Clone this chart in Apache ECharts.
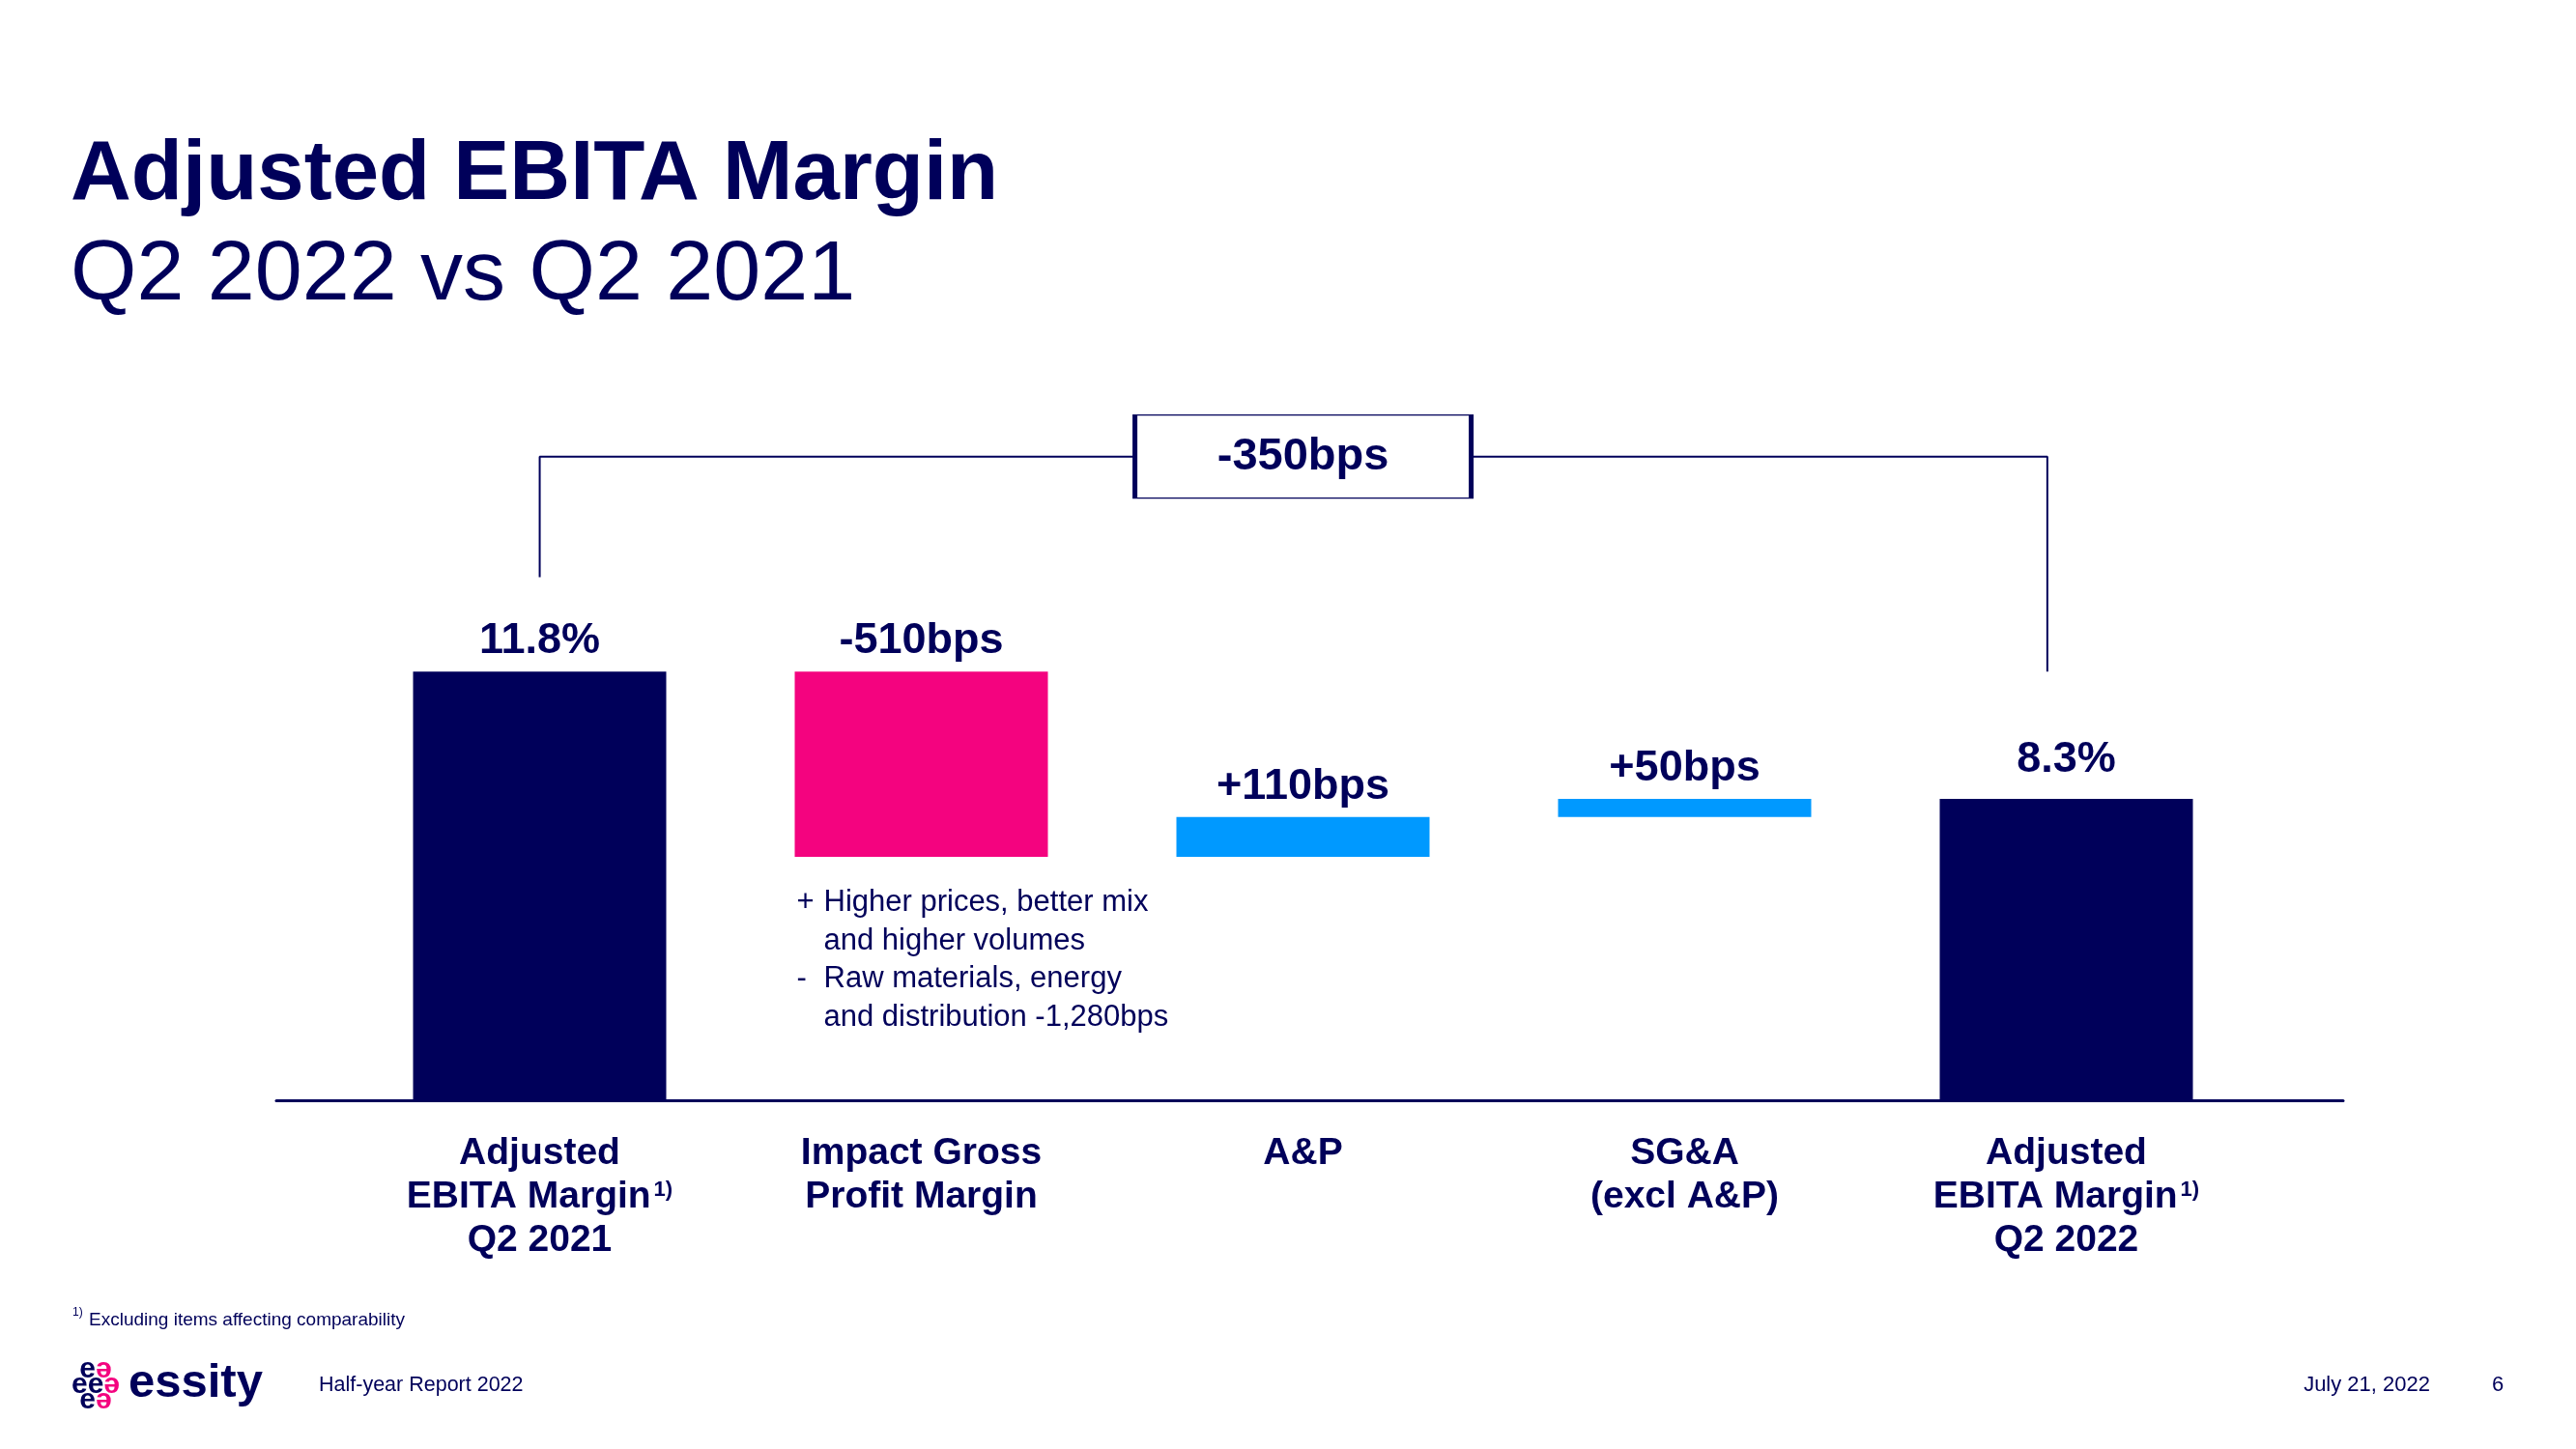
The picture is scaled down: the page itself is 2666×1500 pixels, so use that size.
<!DOCTYPE html>
<html>
<head>
<meta charset="utf-8">
<script src="https://cdn.jsdelivr.net/npm/echarts@6/dist/echarts.min.js"></script>
<style>
html,body{margin:0;padding:0;background:#fff;}
#chart{width:2666px;height:1500px;}
</style>
</head>
<body>
<div id="chart"></div>
<script>
// ---------- data ----------
const categoryLines = [
  ['Adjusted', 'EBITA Margin', 'Q2 2021'],
  ['Impact Gross', 'Profit Margin'],
  ['A&P'],
  ['SG&A', '(excl A&P)'],
  ['Adjusted', 'EBITA Margin', 'Q2 2022']
];
const footnoteMarks = ['1)', '', '', '', '1)'];   // attached to 2nd line
const stepTypes = ['total', 'delta', 'delta', 'delta', 'total'];
const stepValues = [11.8, -5.1, 1.1, 0.5, 8.3];   // % / percentage points
const annotationLines = [
  ['+', 'Higher prices, better mix'],
  ['', 'and higher volumes'],
  ['-', 'Raw materials, energy'],
  ['', 'and distribution -1,280bps']
];
// bracket between first and last total (in axis units)
const bracketX = [0, 3.95];
const bracketTop = 17.72;
const bracketLeftEnd = 14.4;
const bracketRightEnd = 11.8;
const bracketLabelX = 2;
const titleText = 'Adjusted EBITA Margin';
const subtitleText = 'Q2 2022 vs Q2 2021';
const footnoteText = 'Excluding items affecting comparability';
const footerReport = 'Half-year Report 2022';
const footerDate = 'July 21, 2022';
const footerPage = '6';

// ---------- styles ----------
const NAVY = '#00005a';
const PINK = '#f4037f';
const BLUE = '#0099ff';
const FONT = '"Liberation Sans", Arial, sans-serif';

// ---------- derive waterfall ----------
const baseData = [], barData = [], labelTexts = [];
let running = 0;
stepValues.forEach((v, i) => {
  if (stepTypes[i] === 'total') {
    baseData.push(0); barData.push(v); running = v;
    labelTexts.push(v.toFixed(1) + '%');
  } else {
    if (v < 0) { baseData.push(+(running + v).toFixed(2)); barData.push(-v); }
    else { baseData.push(running); barData.push(v); }
    running = +(running + v).toFixed(2);
    labelTexts.push((v > 0 ? '+' : '') + Math.round(v * 100) + 'bps');
  }
});
const totalDiff = Math.round((stepValues[stepValues.length - 1] - stepValues[0]) * 100);

const annotationText = annotationLines.map(l =>
  l[0] ? '{p|' + l[0] + '}{t|' + l[1] + '}' : '{i|' + l[1] + '}').join('\n');

const chart = echarts.init(document.getElementById('chart'), null, {renderer: 'canvas'});

const option = {
  backgroundColor: '#ffffff',
  animation: false,
  title: [
    {text: titleText, left: 73, top: 139, padding: 0,
     textStyle: {fontFamily: FONT, fontSize: 87, fontWeight: 'bold', color: NAVY}},
    {text: subtitleText, left: 73, top: 242, padding: 0,
     textStyle: {fontFamily: FONT, fontSize: 88, fontWeight: 'normal', color: NAVY}}
  ],
  grid: [
    {left: 361, right: 330, top: 387, bottom: 361},
    {left: 286, right: 241, top: 387, bottom: 361}
  ],
  xAxis: [
    {type: 'category', gridIndex: 0, data: categoryLines.map(l => l.join('\n')),
     axisLine: {show: false}, axisTick: {show: false},
     axisLabel: {
       interval: 0, margin: 33, color: NAVY, fontFamily: FONT, fontSize: 39,
       fontWeight: 'bold', lineHeight: 45,
       formatter: (val, idx) => categoryLines[idx].map((line, k) =>
         (k === 1 && footnoteMarks[idx]) ? '{b|' + line + '}{s|' + footnoteMarks[idx] + '}' : '{b|' + line + '}'
       ).join('\n'),
       rich: {
         b: {fontFamily: FONT, fontSize: 39, fontWeight: 'bold', color: NAVY, lineHeight: 45},
         s: {fontFamily: FONT, fontSize: 22, fontWeight: 'bold', color: NAVY, lineHeight: 45,
             verticalAlign: 'top', padding: [4, 0, 0, 3]}
       }
     }},
    {type: 'value', gridIndex: 1, min: -0.69, max: 4.725,
     axisLine: {show: true, onZero: false, lineStyle: {color: NAVY, width: 3}},
     axisTick: {show: false}, axisLabel: {show: false}, splitLine: {show: false}}
  ],
  yAxis: [
    {type: 'value', gridIndex: 0, min: 0, max: 20, show: false},
    {type: 'value', gridIndex: 1, min: 0, max: 20, show: false}
  ],
  series: [
    {
      type: 'bar', stack: 'w', xAxisIndex: 0, yAxisIndex: 0, barWidth: 262, silent: true,
      itemStyle: {color: 'rgba(0,0,0,0)'},
      data: baseData.map((b, i) => {
        if (stepTypes[i] === 'delta' && stepValues[i] < 0) {
          return {value: b, label: {
            show: true, position: [2, 28], align: 'left', verticalAlign: 'top',
            formatter: annotationText,
            rich: {
              p: {fontFamily: FONT, fontSize: 31, color: NAVY, width: 28, lineHeight: 39.5},
              t: {fontFamily: FONT, fontSize: 31, color: NAVY, lineHeight: 39.5},
              i: {fontFamily: FONT, fontSize: 31, color: NAVY, lineHeight: 39.5, padding: [0, 0, 0, 28]}
            }
          }};
        }
        return b;
      })
    },
    {
      type: 'bar', stack: 'w', xAxisIndex: 0, yAxisIndex: 0, barWidth: 262, silent: true,
      label: {show: true, position: 'top', distance: 9, fontFamily: FONT, fontSize: 45,
              fontWeight: 'bold', color: NAVY,
              formatter: p => labelTexts[p.dataIndex]},
      data: barData.map((v, i) => ({
        value: v,
        itemStyle: {color: stepTypes[i] === 'total' ? NAVY : (stepValues[i] < 0 ? PINK : BLUE)},
        label: (i === barData.length - 1) ? {distance: 18} : undefined
      }))
    },
    {
      type: 'line', xAxisIndex: 1, yAxisIndex: 1, symbol: 'none', silent: true,
      lineStyle: {color: NAVY, width: 2}, z: 3,
      data: [[bracketX[0], bracketLeftEnd], [bracketX[0], bracketTop],
             [bracketX[1], bracketTop], [bracketX[1], bracketRightEnd]]
    },
    {
      type: 'scatter', xAxisIndex: 1, yAxisIndex: 1, silent: true, z: 5,
      symbol: 'rect', symbolSize: [348, 86],
      itemStyle: {color: '#ffffff', borderColor: NAVY, borderWidth: 2.5, opacity: 1},
      label: {show: true, position: 'inside', fontFamily: FONT, fontSize: 47,
              fontWeight: 'bold', color: NAVY,
              formatter: () => (totalDiff > 0 ? '+' : '') + totalDiff + 'bps'},
      data: [[bracketLabelX, bracketTop]]
    }
  ],
  graphic: [
    {type: 'text', left: 75, top: 1353, silent: true,
     style: {text: '1)', fontFamily: FONT, fontSize: 12, fill: NAVY}},
    {type: 'text', left: 92, top: 1357, silent: true,
     style: {text: footnoteText, fontFamily: FONT, fontSize: 19, fill: NAVY}},
    {type: 'text', x: 99, y: 1434, silent: true,
     style: {text: '{n|e}{p|ə}\n{n|e}{n|e}{p|ə}\n{n|e}{p|ə}', align: 'center', verticalAlign: 'middle',
             rich: {
               n: {fontFamily: FONT, fontSize: 30, fontWeight: 'bold', fill: NAVY, lineHeight: 16},
               p: {fontFamily: FONT, fontSize: 30, fontWeight: 'bold', fill: PINK, lineHeight: 16}
             }}},
    {type: 'text', x: 133, y: 1432, silent: true,
     style: {text: 'essity', fontFamily: FONT, fontSize: 49, fontWeight: 'bold', fill: NAVY,
             verticalAlign: 'middle'}},
    {type: 'text', x: 330, y: 1434, silent: true,
     style: {text: footerReport, fontFamily: FONT, fontSize: 21.5, fill: NAVY, verticalAlign: 'middle'}},
    {type: 'text', x: 2515, y: 1434, silent: true,
     style: {text: footerDate, fontFamily: FONT, fontSize: 22, fill: NAVY, align: 'right', verticalAlign: 'middle'}},
    {type: 'text', x: 2585, y: 1434, silent: true,
     style: {text: footerPage, fontFamily: FONT, fontSize: 22, fill: NAVY, align: 'center', verticalAlign: 'middle'}}
  ]
};
chart.setOption(option);
</script>
</body>
</html>
